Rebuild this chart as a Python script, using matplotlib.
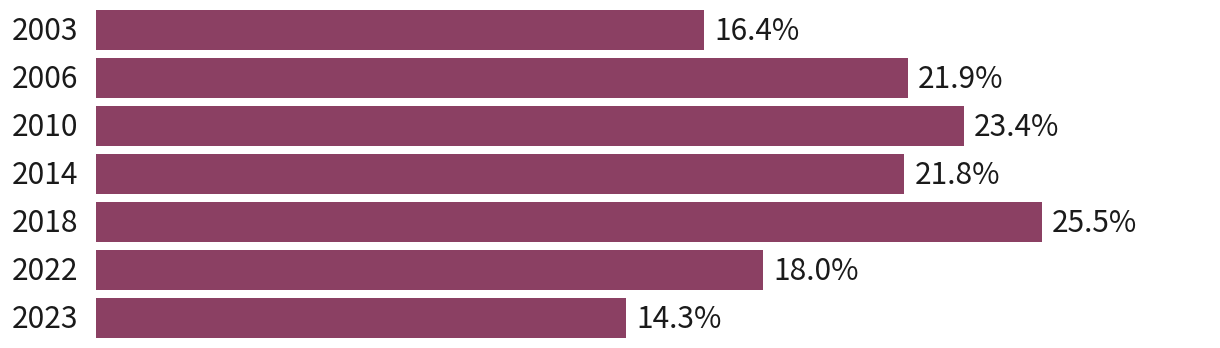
import matplotlib
matplotlib.use("Agg")
import matplotlib.pyplot as plt
import matplotlib.transforms as mtransforms

years = ["2003", "2006", "2010", "2014", "2018", "2022", "2023"]
shares = [16.4, 21.9, 23.4, 21.8, 25.5, 18.0, 14.3]

bar_color = "#8b4063"
text_color = "#1a1a1a"

plt.rcParams['font.family'] = ['Noto Sans CJK SC', 'DejaVu Sans']

W, H = 1220, 348
fig = plt.figure(figsize=(W / 100, H / 100), dpi=100)
ax = fig.add_axes([96 / W, 10 / H, (W - 96) / W, 328 / H])

pos = list(range(len(years)))
bh = 40 / 48
ax.barh(pos, shares, height=bh, color=bar_color)

# small pixel nudges so the text sits centred on the bars
up = mtransforms.ScaledTranslation(0, 2 / 100, fig.dpi_scale_trans)
down = mtransforms.ScaledTranslation(0, -2 / 100, fig.dpi_scale_trans)

for p, v in zip(pos, shares):
    ax.text(v + 0.27, p, f"{v:.1f}%", va="center", ha="left",
            fontsize=21.5, color=text_color, transform=ax.transData + down)

ax.set_xlim(0, 1124 / 37.08)
ax.set_ylim(len(years) - 1 + bh / 2, -bh / 2)
ax.set_yticks(pos)
ax.set_yticklabels(years, fontsize=21.5, color=text_color)
ax.tick_params(axis="y", length=0, pad=13)
for lbl in ax.get_yticklabels():
    lbl.set_transform(lbl.get_transform() + up)
ax.set_xticks([])
for s in ax.spines.values():
    s.set_visible(False)

fig.savefig("out.png", dpi=100)
